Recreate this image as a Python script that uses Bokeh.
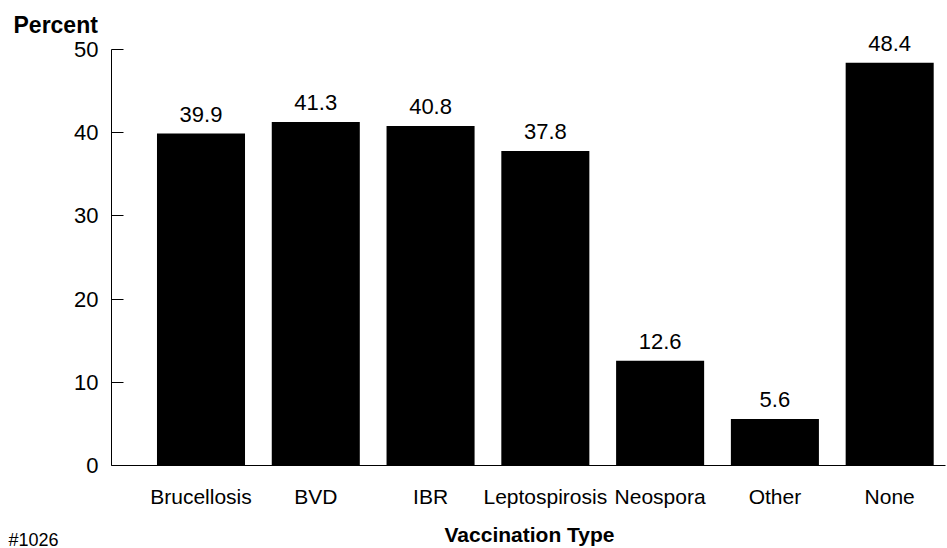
from bokeh.plotting import figure
from bokeh.models import ColumnDataSource, FixedTicker, Range1d, LabelSet
from bokeh.core.properties import value
from bokeh.embed import file_html
from bokeh.resources import INLINE

categories = ["Brucellosis", "BVD", "IBR", "Leptospirosis", "Neospora", "Other", "None"]
percents = [39.9, 41.3, 40.8, 37.8, 12.6, 5.6, 48.4]
y_ticks = [0, 10, 20, 30, 40, 50]

FONT = "Liberation Sans"
W, H = 947, 548

# pixel <-> data mapping of the canvas (frame covers the whole canvas)
X0_PX, X_SCALE = 200.5, 114.78   # pixel of category 0, pixels per category
Y0_PX, Y_SCALE = 465.0, 8.32     # pixel of 0 %, pixels per percent


def dx(px):
    return (px - X0_PX) / X_SCALE


def dy(py):
    return (Y0_PX - py) / Y_SCALE


xs = list(range(len(categories)))
src = ColumnDataSource(dict(x=xs, top=percents, lab=[f"{v:.1f}" for v in percents]))

p = figure(width=W, height=H, output_backend="svg", toolbar_location=None, title=None,
           x_range=Range1d(dx(0), dx(W)), y_range=Range1d(dy(H), dy(0)),
           min_border_left=0, min_border_right=0, min_border_top=0, min_border_bottom=0)
p.outline_line_color = None
p.xgrid.visible = False
p.ygrid.visible = False
p.background_fill_color = "white"
p.border_fill_color = "white"

p.vbar(x="x", top="top", bottom=0, width=0.767, source=src,
       fill_color="black", line_color=None)

p.add_layout(LabelSet(x="x", y="top", text="lab", source=src, text_align="center",
                      text_baseline="alphabetic", y_offset=12, text_font=value(FONT),
                      text_font_size="22px", text_color="black"))

# x axis (drawn at 0 %)
xa = p.xaxis[0]
xa.fixed_location = 0
xa.bounds = (dx(111), dx(945))
xa.ticker = FixedTicker(ticks=xs)
xa.major_label_overrides = {i: c for i, c in enumerate(categories)}
xa.major_tick_line_color = None
xa.minor_tick_line_color = None
xa.major_label_standoff = 13
xa.major_label_text_font = FONT
xa.major_label_text_font_size = "21px"
xa.major_label_text_color = "black"
xa.axis_line_color = "black"
xa.axis_line_width = 1

# y axis
ya = p.yaxis[0]
ya.fixed_location = dx(111)
ya.bounds = (0, 50)
ya.ticker = FixedTicker(ticks=y_ticks)
ya.major_tick_in = 12
ya.major_tick_out = 0
ya.minor_tick_line_color = None
ya.major_label_standoff = 13
ya.major_label_text_font = FONT
ya.major_label_text_font_size = "22px"
ya.major_label_text_color = "black"
ya.axis_line_color = "black"
ya.axis_line_width = 1
ya.major_tick_line_color = "black"

# free texts (title of the y axis, x-axis title, figure number)
p.text(x=[dx(13)], y=[dy(24)], text=["Percent"], text_font=value(FONT),
       text_font_style="bold", text_font_size="23px", text_baseline="alphabetic",
       text_align="left", text_color="black")
p.text(x=[dx(529)], y=[dy(534)], text=["Vaccination Type"], text_font=value(FONT),
       text_font_style="bold", text_font_size="21px", text_baseline="alphabetic",
       text_align="center", text_color="black")
p.text(x=[dx(8)], y=[dy(539)], text=["#1026"], text_font=value(FONT),
       text_font_size="18px", text_baseline="alphabetic", text_align="left",
       text_color="black")

open("out.html", "w").write(file_html(p, INLINE))
